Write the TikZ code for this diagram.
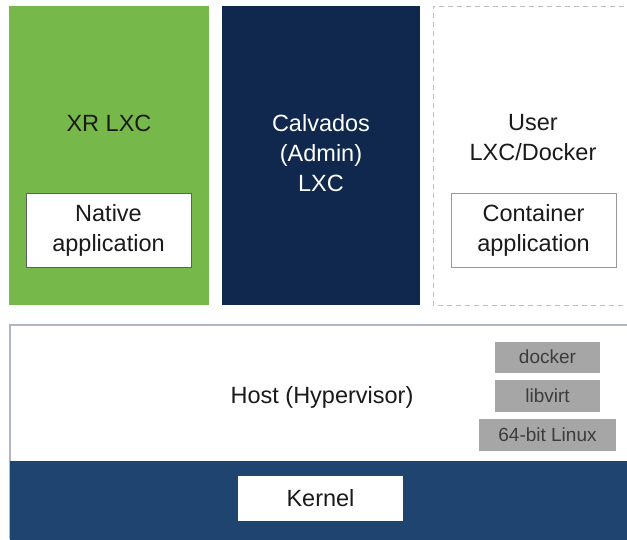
\documentclass[tikz,border=0pt]{standalone}
\usepackage{fontspec}
\setmainfont{Liberation Sans}
\definecolor{xrgreen}{HTML}{76B94A}
\definecolor{navy}{HTML}{10284E}
\definecolor{kband}{HTML}{1F446F}
\definecolor{gbox}{HTML}{A6A6A6}
\definecolor{dtext}{HTML}{1A1A1A}
\definecolor{hostline}{HTML}{B0B9C3}
\definecolor{dashc}{HTML}{BDBDBD}
\tikzset{
  lbl/.style={font=\fontsize{23.5}{30}\selectfont, align=center, inner sep=0pt},
  appbox/.style={draw=#1, fill=white, line width=1pt},
  gray box/.style={fill=gbox},
  small lbl/.style={font=\fontsize{19}{22}\selectfont, text=dtext!85!white, inner sep=0pt},
}
\begin{document}
\begin{tikzpicture}[x=1pt,y=-1pt]
\useasboundingbox (0,0) rectangle (627,539);
\fill[white] (0,0) rectangle (627,539);
% columns
\fill[xrgreen] (9,6) rectangle (209,305);
\fill[navy] (222,6) rectangle (420,305);
\draw[dashc, dash pattern=on 5pt off 4pt, line width=1pt] (660,6) -- (433,6) -- (433,305) -- (660,305);
% app boxes
\draw[appbox=dtext!70] (26,193) rectangle (191,267);
\draw[appbox=gray!80] (451,193) rectangle (616,267);
\node[lbl, text=dtext] (xr) at (109,123) {XR LXC};
\node[lbl, text=white] (cal) at (321,153) {Calvados\\(Admin)\\LXC};
\node[lbl, text=dtext] (usr) at (533,138) {User\\LXC/Docker};
\node[lbl, text=dtext] (nat) at (108.5,230) {Native\\application};
\node[lbl, text=dtext] (cont) at (533.5,230) {Container\\application};
% host
\fill[white] (10,325) rectangle (640,461);
\draw[hostline, line width=1.5pt] (640,325) -- (10,325) -- (10,539);
\fill[kband] (10,461) rectangle (640,545);
\node[lbl, text=dtext] (host) at (322,397) {Host (Hypervisor)};
\fill[white] (238,476) rectangle (403,521);
\node[lbl, text=dtext] (kern) at (320.5,498) {Kernel};
% gray boxes
\fill[gray box] (495,342) rectangle (600,373);
\fill[gray box] (495,380) rectangle (600,412);
\fill[gray box] (479,419) rectangle (616,451);
\node[small lbl] (dock) at (547.5,357) {docker};
\node[small lbl] (lv) at (547.5,396) {libvirt};
\node[small lbl] (lin) at (547.5,435) {64-bit Linux};
\end{tikzpicture}
\end{document}
